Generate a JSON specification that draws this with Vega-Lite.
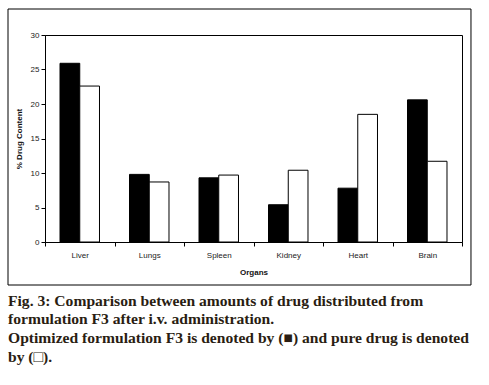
{
  "$schema": "https://vega.github.io/schema/vega-lite/v6.json",
  "autosize": {"type": "none"},
  "width": 417,
  "height": 207,
  "padding": {"left": 45, "top": 35, "right": 27, "bottom": 143},
  "background": "white",
  "config": {
    "font": "Liberation Sans",
    "view": {"stroke": "black", "strokeWidth": 1},
    "axis": {
      "domainColor": "black",
      "tickColor": "black",
      "tickSize": 4,
      "labelFontSize": 8,
      "labelColor": "#222222",
      "titleFontSize": 8,
      "titleFontWeight": "bold",
      "titleColor": "#111111",
      "grid": false
    }
  },
  "title": {
    "text": [
      "Fig. 3: Comparison between amounts of drug distributed from",
      "formulation F3 after i.v. administration.",
      "Optimized formulation F3 is denoted by (■) and pure drug is denoted",
      "by (□)."
    ],
    "orient": "bottom",
    "anchor": "start",
    "frame": "group",
    "align": "left",
    "dx": -37,
    "offset": 8,
    "font": "Liberation Serif",
    "fontSize": 15.6,
    "fontWeight": "bold",
    "color": "#2a1d12",
    "lineHeight": 18.7
  },
  "layer": [
    {
      "data": {
        "values": [
          {"organ": "Liver", "type": "Optimized formulation F3", "value": 25.9},
          {"organ": "Liver", "type": "Pure drug", "value": 22.6},
          {"organ": "Lungs", "type": "Optimized formulation F3", "value": 9.8},
          {"organ": "Lungs", "type": "Pure drug", "value": 8.7},
          {"organ": "Spleen", "type": "Optimized formulation F3", "value": 9.3},
          {"organ": "Spleen", "type": "Pure drug", "value": 9.7},
          {"organ": "Kidney", "type": "Optimized formulation F3", "value": 5.4},
          {"organ": "Kidney", "type": "Pure drug", "value": 10.4},
          {"organ": "Heart", "type": "Optimized formulation F3", "value": 7.8},
          {"organ": "Heart", "type": "Pure drug", "value": 18.5},
          {"organ": "Brain", "type": "Optimized formulation F3", "value": 20.6},
          {"organ": "Brain", "type": "Pure drug", "value": 11.7}
        ]
      },
      "mark": {"type": "bar", "stroke": "black", "strokeWidth": 1},
      "encoding": {
        "x": {
          "field": "organ",
          "type": "nominal",
          "sort": ["Liver", "Lungs", "Spleen", "Kidney", "Heart", "Brain"],
          "scale": {"paddingInner": 0, "paddingOuter": 0},
          "axis": {
            "title": "Organs",
            "labelAngle": 0,
            "tickBand": "extent",
            "labelPadding": 5,
            "titlePadding": 9
          }
        },
        "xOffset": {
          "field": "type",
          "type": "nominal",
          "scale": {"paddingInner": 0, "paddingOuter": 0.76}
        },
        "y": {
          "field": "value",
          "type": "quantitative",
          "scale": {"domain": [0, 30], "nice": false},
          "axis": {
            "title": "% Drug Content",
            "values": [0, 5, 10, 15, 20, 25, 30],
            "labelPadding": 2,
            "titlePadding": 7
          }
        },
        "color": {
          "field": "type",
          "type": "nominal",
          "scale": {"range": ["black", "white"]},
          "legend": null
        }
      }
    },
    {
      "data": {"values": [{"a": 0, "b": 1, "c": 0, "d": 1}]},
      "mark": {"type": "rect", "fill": "white", "fillOpacity": 0, "stroke": "black", "strokeWidth": 1, "clip": false},
      "encoding": {
        "x": {"field": "a", "type": "quantitative", "scale": {"domain": [0.0799, 0.9806], "nice": false, "zero": false}, "axis": null},
        "x2": {"field": "b"},
        "y": {"field": "c", "type": "quantitative", "scale": {"domain": [0.1558, 0.9058], "nice": false, "zero": false}, "axis": null},
        "y2": {"field": "d"}
      }
    }
  ],
  "resolve": {"scale": {"x": "independent", "y": "independent"}}
}
